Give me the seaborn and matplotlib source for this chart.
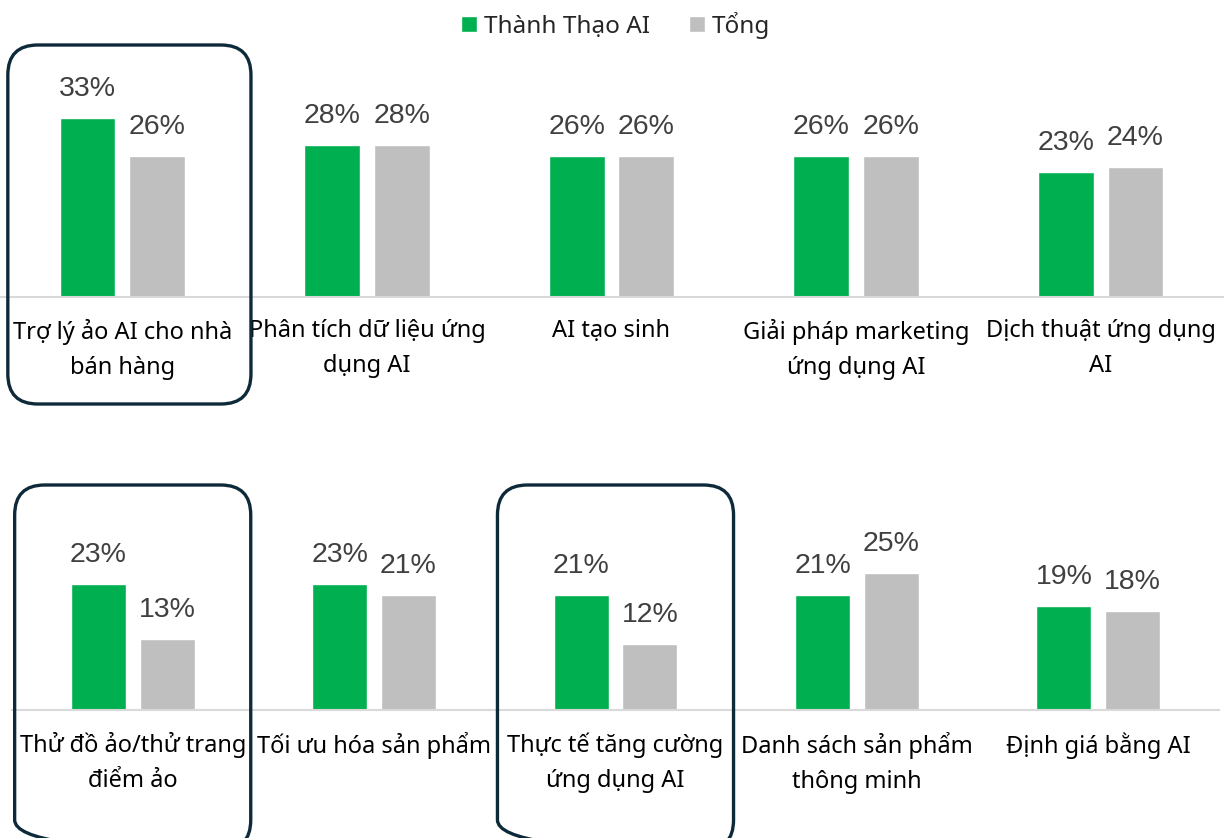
import pandas as pd
import seaborn as sns
import matplotlib.pyplot as plt
from matplotlib.patches import FancyBboxPatch

# data
top_labels = ['Trợ lý ảo AI cho nhà\nbán hàng', 'Phân tích dữ liệu ứng\ndụng AI', 'AI tạo sinh',
              'Giải pháp marketing\nứng dụng AI', 'Dịch thuật ứng dụng\nAI']
top_thanh_thao = [33, 28, 26, 26, 23]
top_tong = [26, 28, 26, 26, 24]

bottom_labels = ['Thử đồ ảo/thử trang\nđiểm ảo', 'Tối ưu hóa sản phẩm', 'Thực tế tăng cường\nứng dụng AI',
                 'Danh sách sản phẩm\nthông minh', 'Định giá bằng AI']
bottom_thanh_thao = [23, 23, 21, 21, 19]
bottom_tong = [13, 21, 12, 25, 18]

series = ['Thành Thạo AI', 'Tổng']
colors = ['#00B050', '#BFBFBF']
top_highlight = [0]
bottom_highlight = [0, 2]

sns.set_style('white')
plt.rcParams['font.family'] = ['Noto Sans', 'DejaVu Sans']

W, H = 1231, 838
fig = plt.figure(figsize=(W / 100, H / 100), dpi=100)
ax_top = fig.add_axes([0 / W, (H - 297) / H, 1223 / W, 217 / H])
ax_bot = fig.add_axes([12 / W, (H - 710) / H, 1207 / W, 219 / H])


def draw_row(ax, labels, v1, v2):
    df = pd.DataFrame({'cat': labels * 2,
                       'series': [series[0]] * len(labels) + [series[1]] * len(labels),
                       'value': v1 + v2})
    sns.barplot(data=df, x='cat', y='value', hue='series', palette=colors, saturation=1,
                width=0.57, gap=0.2, ax=ax, legend=True)
    for cont in ax.containers:
        for bar in cont:
            h = bar.get_height()
            ax.annotate(f'{h:.0f}%', (bar.get_x() + bar.get_width() / 2, h),
                        xytext=(0, 21), textcoords='offset points', ha='center', va='center',
                        fontsize=20.5, color='#404040', family='Liberation Sans')
    ax.set_ylim(0, 40)
    ax.set_xlim(-0.5, 4.5)
    ax.set_xlabel('')
    ax.set_ylabel('')
    ax.set_yticks([])
    ax.tick_params(axis='x', length=0, pad=16, labelsize=17, labelcolor='black')
    plt.setp(ax.get_xticklabels(), linespacing=1.6)
    for s in ['top', 'left', 'right']:
        ax.spines[s].set_visible(False)
    ax.spines['bottom'].set_color('#D9D9D9')
    ax.spines['bottom'].set_linewidth(1.5)
    ax.set_facecolor('none')


draw_row(ax_top, top_labels, top_thanh_thao, top_tong)
draw_row(ax_bot, bottom_labels, bottom_thanh_thao, bottom_tong)

handles, lbls = ax_top.get_legend_handles_labels()
ax_top.get_legend().remove()
ax_bot.get_legend().remove()
fig.legend(handles, lbls, loc='upper center', bbox_to_anchor=(0.5, 1.012), ncol=2, frameon=False,
           fontsize=17.5, handlelength=0.65, handleheight=0.65, handletextpad=0.3, columnspacing=1.6)

# overlay for highlight boxes, in pixel units
ov = fig.add_axes([0, 0, 1, 1], zorder=5)
ov.set_xlim(0, W)
ov.set_ylim(H, 0)
ov.axis('off')
ov.patch.set_alpha(0)


def highlight(ax, idx_list, left, right, up, down):
    for i in idx_list:
        x0 = ax.transData.transform((i - left, 0))[0]
        x1 = ax.transData.transform((i + right, 0))[0]
        base = H - ax.transData.transform((0, 0))[1]
        box = FancyBboxPatch((x0, base - up), x1 - x0, up + down,
                             boxstyle='round,pad=0,rounding_size=30',
                             fill=False, edgecolor='#0E2A3A', linewidth=2.4)
        ov.add_patch(box)


highlight(ax_top, top_highlight, 0.468, 0.526, 252, 107)
highlight(ax_bot, bottom_highlight, 0.489, 0.489, 225, 140)

fig.savefig('out.png', dpi=100)
